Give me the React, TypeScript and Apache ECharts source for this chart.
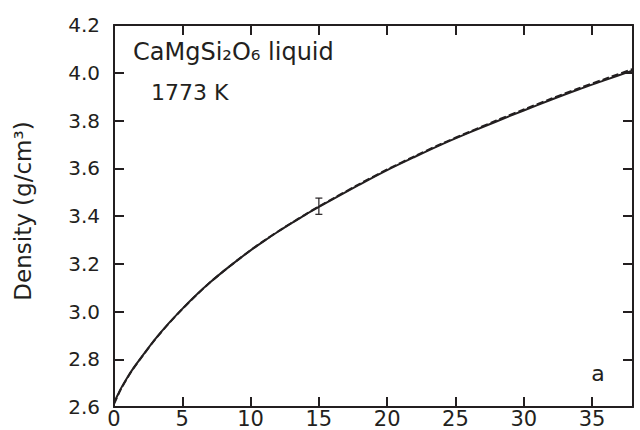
import React, { useEffect, useRef } from "react";
import * as echarts from "echarts";

// Pressure (GPa) and density (g/cm³) along the 1773 K isotherm
const pressure = [0, 0.25, 0.5, 1, 1.5, 2, 3, 4, 5, 6, 7, 8, 9, 10, 11, 12, 13, 14, 15, 16, 18, 20, 22, 24, 26, 28, 30, 32, 34, 36, 38];
const densitySolid = [2.618, 2.648, 2.677, 2.726, 2.769, 2.808, 2.883, 2.95, 3.011, 3.068, 3.12, 3.168, 3.213, 3.256, 3.296, 3.334, 3.37, 3.405, 3.438, 3.47, 3.532, 3.592, 3.647, 3.7, 3.749, 3.796, 3.842, 3.887, 3.93, 3.97, 4.01];
const densityDashed = [2.612, 2.644, 2.674, 2.724, 2.768, 2.807, 2.882, 2.949, 3.01, 3.067, 3.12, 3.168, 3.213, 3.257, 3.297, 3.335, 3.371, 3.406, 3.44, 3.472, 3.535, 3.595, 3.65, 3.703, 3.752, 3.8, 3.846, 3.891, 3.934, 3.975, 4.016];

// Single measured point with its uncertainty
const errPressure = [15];
const errLow = [3.407];
const errHigh = [3.475];

const xTicks = { min: 0, max: 38, interval: 5 };
const yTicks = { min: 2.6, max: 4.2, interval: 0.2 };

const INK = "#231f20";
const FONT = "DejaVu Sans";

export default function App() {
  const ref = useRef<HTMLDivElement>(null);

  useEffect(() => {
    if (!ref.current) return;
    const chart = echarts.init(ref.current, null, { renderer: "svg" });

    const axisLine = { show: true, onZero: false, lineStyle: { color: INK, width: 2 } };
    const axisTick = { show: true, inside: true, length: 10, lineStyle: { color: INK, width: 2 } };

    chart.setOption({
      animation: false,
      backgroundColor: "#ffffff",
      grid: { left: 114, top: 25, right: 7, bottom: 23, containLabel: false },
      xAxis: [
        {
          type: "value",
          position: "bottom",
          ...xTicks,
          axisLine,
          axisTick,
          splitLine: { show: false },
          axisLabel: {
            color: INK,
            fontFamily: FONT,
            fontSize: 21,
            margin: 1,
            showMaxLabel: false,
          },
        },
        {
          type: "value",
          position: "top",
          ...xTicks,
          axisLine,
          axisTick,
          splitLine: { show: false },
          axisLabel: { show: false },
        },
      ],
      yAxis: [
        {
          type: "value",
          position: "left",
          ...yTicks,
          axisLine,
          axisTick,
          splitLine: { show: false },
          axisLabel: {
            color: INK,
            fontFamily: FONT,
            fontSize: 20,
            margin: 14,
            formatter: (v: number) => v.toFixed(1),
          },
        },
        {
          type: "value",
          position: "right",
          ...yTicks,
          axisLine,
          axisTick,
          splitLine: { show: false },
          axisLabel: { show: false },
        },
      ],
      series: [
        {
          type: "line",
          data: pressure.map((p, i) => [p, densityDashed[i]]),
          showSymbol: false,
          smooth: 0.3,
          lineStyle: { color: INK, width: 2, type: [7, 3] },
          z: 2,
        },
        {
          type: "line",
          data: pressure.map((p, i) => [p, densitySolid[i]]),
          showSymbol: false,
          smooth: 0.3,
          lineStyle: { color: INK, width: 2 },
          z: 3,
        },
        {
          type: "custom",
          data: errPressure.map((p, i) => [p, errLow[i], errHigh[i]]),
          z: 4,
          renderItem: (params: any, api: any) => {
            const lo = api.coord([api.value(0), api.value(1)]);
            const hi = api.coord([api.value(0), api.value(2)]);
            const cap = 3.5;
            const style = { stroke: INK, lineWidth: 1.2 };
            return {
              type: "group",
              children: [
                { type: "line", shape: { x1: lo[0], y1: lo[1], x2: hi[0], y2: hi[1] }, style },
                { type: "line", shape: { x1: lo[0] - cap, y1: lo[1], x2: lo[0] + cap, y2: lo[1] }, style },
                { type: "line", shape: { x1: hi[0] - cap, y1: hi[1], x2: hi[0] + cap, y2: hi[1] }, style },
              ],
            };
          },
        },
      ],
      graphic: [
        {
          type: "text",
          x: 133,
          y: 52,
          style: {
            text: "CaMgSi₂O₆ liquid",
            fill: INK,
            font: `24px "${FONT}"`,
            align: "left",
            verticalAlign: "middle",
          },
        },
        {
          type: "text",
          x: 151,
          y: 92,
          style: {
            text: "1773 K",
            fill: INK,
            font: `22px "${FONT}"`,
            align: "left",
            verticalAlign: "middle",
          },
        },
        {
          type: "text",
          x: 598,
          y: 373,
          style: {
            text: "a",
            fill: INK,
            font: `22px "${FONT}"`,
            align: "center",
            verticalAlign: "middle",
          },
        },
        {
          type: "text",
          x: 23,
          y: 211,
          rotation: Math.PI / 2,
          style: {
            text: "Density (g/cm³)",
            fill: INK,
            font: `23px "${FONT}"`,
            align: "center",
            verticalAlign: "middle",
          },
        },
      ],
    });

    return () => chart.dispose();
  }, []);

  return (
    <div
      ref={ref}
      style={{ position: "fixed", left: 0, top: 0, width: 640, height: 430, background: "#fff" }}
    />
  );
}
